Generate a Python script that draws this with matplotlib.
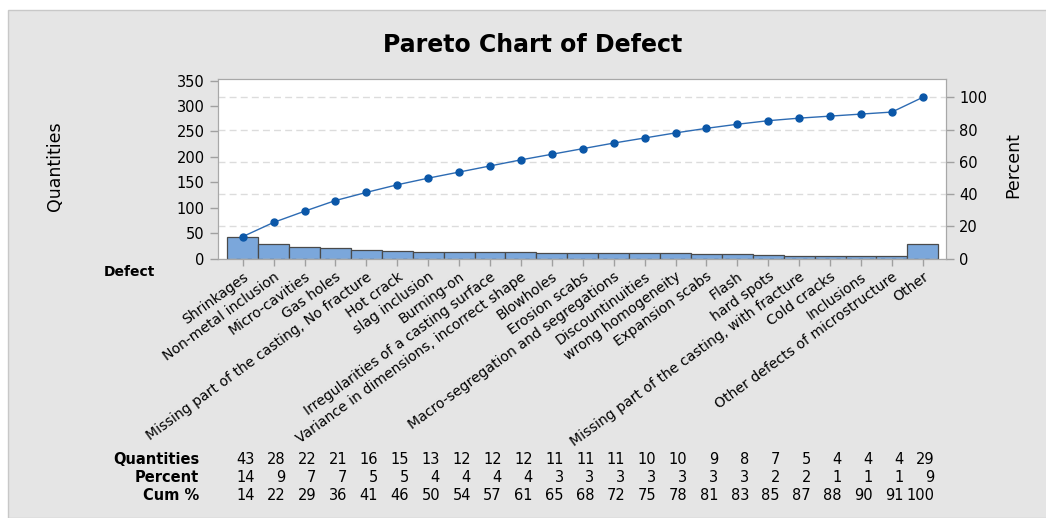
import numpy as np
import matplotlib
matplotlib.use("Agg")
import matplotlib.pyplot as plt
from matplotlib.patches import Rectangle
from matplotlib.transforms import blended_transform_factory

# Data
defects = [
    "Shrinkages", "Non-metal inclusion", "Micro-cavities", "Gas holes",
    "Missing part of the casting, No fracture", "Hot crack", "slag inclusion",
    "Burning-on", "Irregularities of a casting surface",
    "Variance in dimensions, incorrect shape", "Blowholes", "Erosion scabs",
    "Macro-segregation and segregations", "Discountinuities",
    "wrong homogeneity", "Expansion scabs", "Flash", "hard spots",
    "Missing part of the casting, with fracture", "Cold cracks", "Inclusions",
    "Other defects of microstructure", "Other",
]
quantities = [43, 28, 22, 21, 16, 15, 13, 12, 12, 12, 11, 11, 11, 10, 10, 9, 8, 7, 5, 4, 4, 4, 29]
percent = [14, 9, 7, 7, 5, 5, 4, 4, 4, 4, 3, 3, 3, 3, 3, 3, 3, 2, 2, 1, 1, 1, 9]
cum_pct = [14, 22, 29, 36, 41, 46, 50, 54, 57, 61, 65, 68, 72, 75, 78, 81, 83, 85, 87, 88, 90, 91, 100]

plt.rcParams['font.family'] = ['DejaVu Sans']

W, H = 1046, 518
fig = plt.figure(figsize=(W / 100, H / 100), dpi=100)
fig.patch.set_facecolor('white')

# gray panel behind everything
fig.patches.append(Rectangle((8 / W, 0), 1, 1 - 10 / H, transform=fig.transFigure,
                             facecolor='#e5e5e5', edgecolor='#c8c8c8', lw=1, zorder=-5))

ax = fig.add_axes([218 / W, 1 - 258.5 / H, (946 - 218) / W, (258.5 - 79) / H])
ax.set_facecolor('white')

x = np.arange(len(defects))
total = sum(quantities)
cum_line = np.cumsum(quantities) / total * 100

ax.bar(x, quantities, width=1.0, color='#7ba7db', edgecolor='#4a4a4a', lw=0.9, zorder=2)
ax.set_xlim(-0.8, len(defects) - 0.25)
ytop = 353
ax.set_ylim(0, ytop)
ax.set_yticks(range(0, 351, 50))

ax2 = ax.twinx()
ax2.set_ylim(0, ytop / total * 100)
ax2.set_yticks(range(0, 101, 20))
ax2.plot(x, cum_line, color='#2d6bb3', lw=1.0, marker='o', ms=5,
         markerfacecolor='#0b57a8', markeredgecolor='#0b57a8', zorder=3)
ax2.yaxis.grid(True, color='#dcdcdc', ls=(0, (5, 3)), lw=1)
ax2.set_axisbelow(True)

for a in (ax, ax2):
    for s in a.spines.values():
        s.set_color('#a8a8a8')
    a.tick_params(axis='both', colors='#a0a0a0', labelcolor='black',
                  labelsize=10.5, length=6, width=1)

ax.set_xticks(x)
ax.set_xticklabels(defects, rotation=36, ha='right', rotation_mode='anchor',
                   fontsize=10.1)
ax.tick_params(axis='x', length=5, pad=3)

# title and axis labels
fig.text(533 / W, 1 - 45 / H, "Pareto Chart of Defect", ha='center', va='center',
         fontsize=17, fontweight='bold')
fig.text(55 / W, 1 - 166 / H, "Quantities", rotation=90, ha='center', va='center',
         fontsize=12.5)
fig.text(1013 / W, 1 - 165 / H, "Percent", rotation=90, ha='center', va='center',
         fontsize=12.5)
fig.text(104 / W, 1 - 272 / H, "Defect", ha='left', va='center', fontsize=10,
         fontweight='bold')

# table under the chart
tr = blended_transform_factory(ax.transData, fig.transFigure)
rows = [("Quantities", quantities, 460), ("Percent", percent, 477), ("Cum %", cum_pct, 496)]
for label, vals, ypx in rows:
    fig.text(199 / W, 1 - ypx / H, label, ha='right', va='center', fontsize=10.5,
             fontweight='bold')
    for i, v in enumerate(vals):
        ax.text(i + 0.38, 1 - ypx / H, str(v), transform=tr, ha='right',
                va='center', fontsize=10.5, clip_on=False)

fig.savefig("out.png", dpi=100)
